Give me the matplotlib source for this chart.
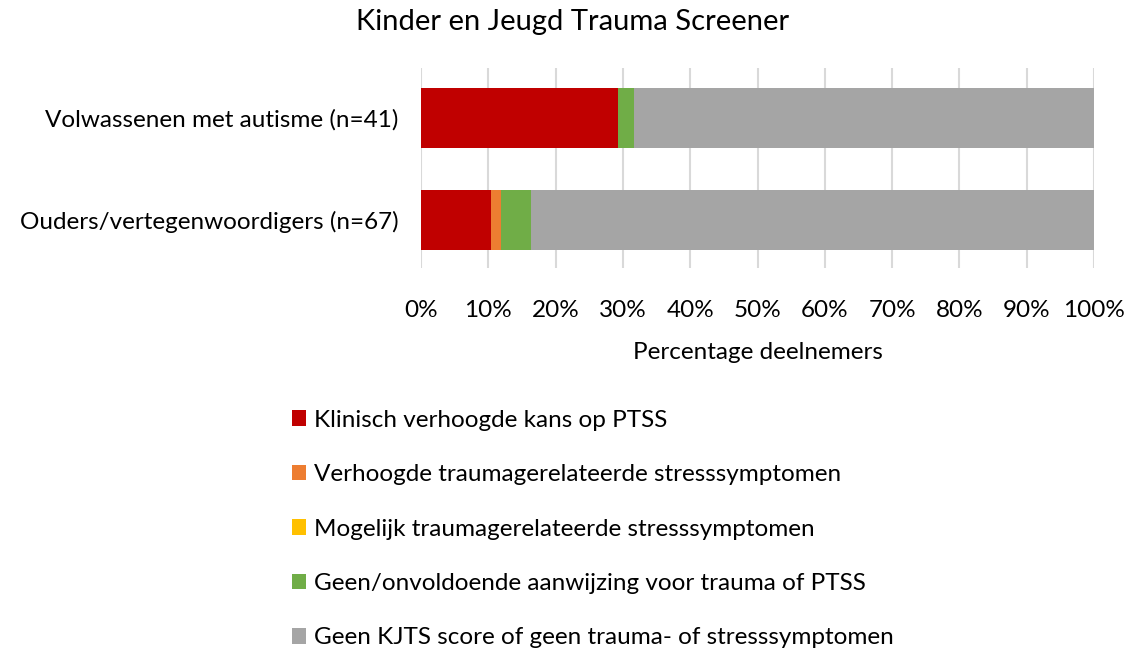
import matplotlib.pyplot as plt
from matplotlib.patches import Patch

plt.rcParams['font.family'] = ['Lato', 'DejaVu Sans']

groups = ['Ouders/vertegenwoordigers (n=67)', 'Volwassenen met autisme (n=41)']
categories = ['Klinisch verhoogde kans op PTSS',
              'Verhoogde traumagerelateerde stresssymptomen',
              'Mogelijk traumagerelateerde stresssymptomen',
              'Geen/onvoldoende aanwijzing voor trauma of PTSS',
              'Geen KJTS score of geen trauma- of stresssymptomen']
colors = ['#c00000', '#ed7d31', '#ffc000', '#70ad47', '#a5a5a5']
# percentages per category, order: ouders, volwassenen
klinisch = [10.4, 29.3]
verhoogd = [1.5, 0.0]
mogelijk = [0.0, 0.0]
geen_aanw = [4.5, 2.4]
geen_score = [83.6, 68.3]
series = [klinisch, verhoogd, mogelijk, geen_aanw, geen_score]

fig = plt.figure(figsize=(11.29, 6.52), dpi=100)
ax = fig.add_axes([421/1129, 1-268/652, 673/1129, 200/652])

left = [0, 0]
for vals, col in zip(series, colors):
    ax.barh([0, 1], vals, left=left, height=0.59, color=col, zorder=3)
    left = [a + b for a, b in zip(left, vals)]

ax.set_xlim(0, 100)
ax.set_ylim(-0.47, 1.49)
ax.set_xticks(range(0, 101, 10))
ax.set_xticklabels([f'{v}%' for v in range(0, 101, 10)])
ax.set_yticks([0, 1])
ax.set_yticklabels(groups)
ax.tick_params(length=0, labelsize=17.5, colors='#000000')
ax.tick_params(axis='x', pad=23)
ax.tick_params(axis='y', pad=16)
ax.grid(axis='x', color='#d9d9d9', linewidth=1.5, zorder=0)
for s in ax.spines.values():
    s.set_visible(False)
ax.set_xlabel('Percentage deelnemers', fontsize=17.5, labelpad=15)
fig.text(573/1129, 1-22/652, 'Kinder en Jeugd Trauma Screener', fontsize=21,
         ha='center', va='center')

handles = [Patch(facecolor=c) for c in colors]
fig.legend(handles, categories, loc='upper left', bbox_to_anchor=(282/1129, 1-400/652),
           frameon=False, fontsize=17.5, handlelength=0.6, handleheight=0.6,
           handletextpad=0.3, labelspacing=1.375, borderaxespad=0)

fig.savefig('out.png', dpi=100)
